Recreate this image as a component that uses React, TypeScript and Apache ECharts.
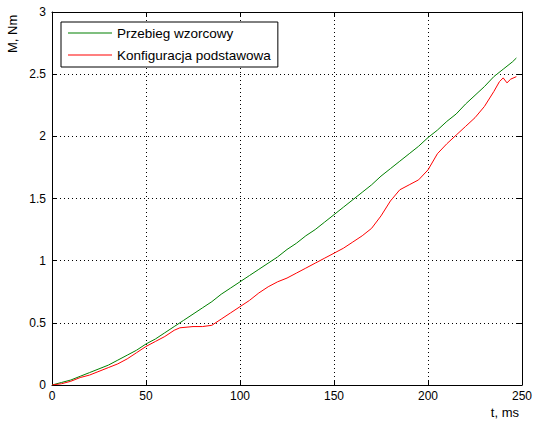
import React, { useEffect, useRef } from "react";
import * as echarts from "echarts";

const seriesNames = ["Przebieg wzorcowy", "Konfiguracja podstawowa"];
const xAxisTitle = "t, ms";
const yAxisTitle = "M, Nm";

const greenT = [0, 5, 10, 15, 20, 25, 30, 35, 40, 45, 50, 55, 60, 65, 70, 75, 80, 85, 90, 95, 100, 105, 110, 115, 120, 125, 130, 135, 140, 145, 150, 155, 160, 165, 170, 175, 180, 185, 190, 195, 200, 205, 210, 215, 220, 225, 230, 235, 240, 245, 247];
const greenM = [0, 0.02, 0.04, 0.07, 0.1, 0.13, 0.16, 0.2, 0.24, 0.28, 0.33, 0.37, 0.42, 0.47, 0.52, 0.57, 0.62, 0.67, 0.73, 0.78, 0.83, 0.88, 0.93, 0.98, 1.03, 1.09, 1.14, 1.2, 1.25, 1.31, 1.37, 1.43, 1.49, 1.55, 1.61, 1.68, 1.74, 1.8, 1.86, 1.92, 1.99, 2.05, 2.12, 2.18, 2.26, 2.33, 2.4, 2.48, 2.54, 2.6, 2.63];

const redT = [0, 5, 10, 15, 20, 25, 30, 35, 40, 45, 50, 55, 60, 65, 68, 75, 80, 85, 90, 95, 100, 105, 110, 115, 120, 125, 130, 135, 140, 145, 150, 155, 160, 165, 170, 175, 180, 185, 190, 195, 200, 205, 210, 215, 220, 225, 230, 235, 238, 240, 242, 244, 247];
const redM = [0, 0.01, 0.03, 0.06, 0.08, 0.11, 0.14, 0.17, 0.21, 0.26, 0.31, 0.35, 0.39, 0.44, 0.46, 0.47, 0.47, 0.48, 0.53, 0.58, 0.63, 0.68, 0.74, 0.79, 0.83, 0.86, 0.9, 0.94, 0.98, 1.02, 1.06, 1.1, 1.15, 1.2, 1.26, 1.36, 1.48, 1.57, 1.61, 1.65, 1.73, 1.86, 1.94, 2.01, 2.08, 2.15, 2.24, 2.36, 2.44, 2.47, 2.43, 2.46, 2.48];

const FONT = "'Liberation Sans', Arial, sans-serif";

export default function App() {
  const ref = useRef<HTMLDivElement>(null);
  useEffect(() => {
    if (!ref.current) return;
    const chart = echarts.init(ref.current, undefined, { renderer: "svg" });
    const axisCommon = {
      type: "value" as const,
      axisLine: { show: true, onZero: false, lineStyle: { color: "#000", width: 1 } },
      axisTick: { show: true, inside: true, length: 5, lineStyle: { color: "#000" } },
    };
    chart.setOption({
      animation: false,
      backgroundColor: "#fff",
      textStyle: { fontFamily: FONT },
      grid: { left: 52, right: 13, top: 12, bottom: 42, containLabel: false, outerBoundsMode: "none" },
      legend: {
        orient: "vertical",
        left: 61,
        top: 22,
        data: seriesNames,
        icon: "rect",
        itemWidth: 44,
        itemHeight: 1,
        itemGap: 6,
        padding: [3, 7, 4, 7],
        borderColor: "#000",
        borderWidth: 1,
        backgroundColor: "#fff",
        textStyle: { fontFamily: FONT, fontSize: 13.5, color: "#000", lineHeight: 16 },
      },
      graphic: [
        {
          type: "text",
          x: 12,
          y: 53,
          rotation: Math.PI / 2,
          style: { text: yAxisTitle, font: "13px " + FONT, fill: "#000", textAlign: "left", textVerticalAlign: "middle" },
        },
        {
          type: "text",
          x: 519,
          y: 412,
          style: { text: xAxisTitle, font: "13px " + FONT, fill: "#000", textAlign: "right", textVerticalAlign: "middle" },
        },
      ],
      xAxis: [
        {
          ...axisCommon,
          position: "bottom",
          min: 0,
          max: 250,
          interval: 50,
          axisLabel: { color: "#000", fontSize: 12, fontFamily: FONT, margin: 5 },
          splitLine: { show: true, lineStyle: { color: "#000", type: [1, 3], width: 1 } },
        },
        {
          ...axisCommon,
          position: "top",
          min: 0,
          max: 250,
          interval: 50,
          axisLabel: { show: false },
          splitLine: { show: false },
        },
      ],
      yAxis: [
        {
          ...axisCommon,
          position: "left",
          min: 0,
          max: 3,
          interval: 0.5,
          axisLabel: { color: "#000", fontSize: 12, fontFamily: FONT, margin: 6 },
          splitLine: { show: true, lineStyle: { color: "#000", type: [1, 3], width: 1 } },
        },
        {
          ...axisCommon,
          position: "right",
          min: 0,
          max: 3,
          interval: 0.5,
          axisLabel: { show: false },
          splitLine: { show: false },
        },
      ],
      series: [
        {
          name: seriesNames[0],
          type: "line",
          data: greenT.map((t, i) => [t, greenM[i]]),
          symbol: "none",
          lineStyle: { color: "#008000", width: 1 },
          itemStyle: { color: "#008000" },
        },
        {
          name: seriesNames[1],
          type: "line",
          data: redT.map((t, i) => [t, redM[i]]),
          symbol: "none",
          lineStyle: { color: "#ff0000", width: 1 },
          itemStyle: { color: "#ff0000" },
        },
      ],
    });
    return () => chart.dispose();
  }, []);
  return <div ref={ref} style={{ width: 535, height: 427, position: "absolute", left: 0, top: 0 }} />;
}
